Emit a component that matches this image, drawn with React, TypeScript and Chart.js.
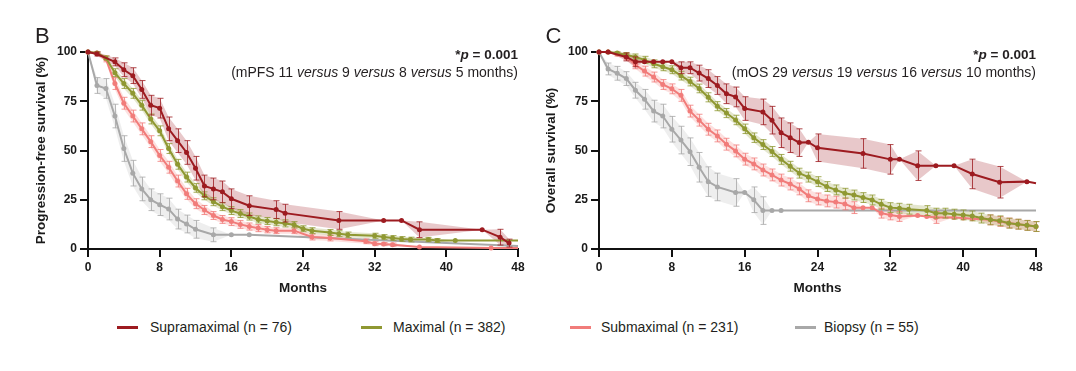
import React, { useEffect, useRef } from "react";
import { Chart, registerables } from "chart.js";

Chart.register(...registerables);

const FONT = "'Liberation Sans', Arial, Helvetica, sans-serif";

// ---------- tick labels ----------
const xTicks = [0, 8, 16, 24, 32, 40, 48];
const yTicks = [0, 25, 50, 75, 100];

// ---------- series labels ----------
const seriesLabels = ["Supramaximal (n = 76)", "Maximal (n = 382)", "Submaximal (n = 231)", "Biopsy (n = 55)"];

// ---------- Panel B: progression-free survival ----------
const pfsSupraMonths = [0, 1, 3, 4, 5, 6, 7, 8, 9, 10, 11, 12, 13, 14, 15, 16, 18, 21, 22, 28, 33, 35, 37, 44, 46, 47];
const pfsSupraSurv = [100, 99, 95, 91, 88, 81, 73, 71.5, 61, 55, 49, 41, 32, 30.5, 29, 25.5, 22, 20, 18.2, 14.5, 14.5, 14.5, 9.8, 9.8, 6, 3];
const pfsSupraErr = [0, 1, 2, 3.5, 4, 4.5, 5, 5, 6, 6, 6, 6, 5.5, 5.5, 5.5, 5, 5, 4.5, 4.5, 4.5, 0, 0, 4, 0, 4, 2];

const pfsMaxMonths = [0, 1, 2, 3, 4, 5, 6, 7, 8, 9, 10, 11, 12, 13, 14, 15, 16, 17, 18, 19, 20, 21, 22, 23, 24, 25, 27, 28, 29, 32, 33, 34, 35, 36, 38, 39, 41, 48];
const pfsMaxSurv = [100, 99.5, 97, 89.5, 84, 79, 73, 66, 60, 51, 43, 36.5, 31, 27, 24, 21.5, 19.5, 18, 16.5, 15, 14.2, 13.6, 13, 12.3, 10.3, 9.3, 8.4, 7.8, 7.2, 6.7, 6.1, 5.6, 5.1, 4.8, 4.8, 4.3, 4.3, 4.3];
const pfsMaxErr = [0, 0.5, 1, 2, 2.5, 2.5, 2.5, 2.5, 2.5, 2.5, 2.5, 2.5, 2.2, 2, 2, 2, 2, 2, 1.8, 1.8, 1.8, 1.8, 1.8, 1.6, 1.5, 1.5, 1.5, 1.5, 1.4, 1.3, 1.2, 1.2, 1.2, 1.2, 1.1, 1, 0, 0];

const pfsSubMonths = [0, 1, 2, 3, 4, 5, 6, 7, 8, 9, 10, 11, 12, 13, 14, 15, 16, 17, 18, 19, 20, 21, 23, 25, 27, 31, 32, 33, 34, 37, 45, 48];
const pfsSubSurv = [100, 99.5, 96.5, 84, 74, 67.5, 61, 54.5, 47.5, 41.5, 34.5, 28, 23, 19.8, 17, 15, 13.9, 12.5, 11.4, 10.6, 9.8, 9.3, 9.3, 6.1, 5.6, 3.9, 2.7, 2.5, 2.2, 1, 0.5, 0.5];
const pfsSubErr = [0, 0.5, 1.5, 3, 3, 3, 3, 3, 3, 3, 3, 2.8, 2.5, 2.3, 2, 2, 2, 2, 1.8, 1.8, 1.6, 1.5, 1.5, 1.5, 1.5, 1.2, 1, 0.8, 0.8, 0, 0, 0];

const pfsBioMonths = [0, 1, 2, 3, 4, 5, 6, 7, 8, 9, 10, 11, 12, 14, 16, 18, 48];
const pfsBioSurv = [100, 83, 81.5, 67.5, 51, 38.5, 30.5, 25, 22.5, 20.3, 15.2, 12.7, 10, 7.2, 7.2, 7.2, 1.5];
const pfsBioErr = [0, 4, 5, 6, 6.5, 6.5, 6, 5.5, 5.5, 5.5, 5, 4.5, 4.5, 3.5, 0, 0, 0];

// ---------- Panel C: overall survival ----------
const osSupraMonths = [0, 1, 3, 4, 5, 6, 7, 8, 9, 10, 11, 12, 13, 14, 15, 16, 18, 19, 20, 21, 22, 23, 24, 29, 32, 33, 35, 37, 39, 41, 44, 47, 48];
const osSupraSurv = [100, 100, 97.5, 95, 95, 95, 95, 95, 92, 92, 89.3, 86.5, 83, 78.8, 77.2, 71.3, 69.6, 65.4, 59, 56.5, 54, 54.2, 51.4, 48.5, 45.5, 45.5, 42.3, 42.3, 42.3, 38.1, 33.9, 34.2, 33.4];
const osSupraErr = [0, 0, 2, 2.5, 0, 0, 0, 0, 3, 3, 4, 4.5, 4.5, 5, 5, 6, 6.5, 7, 7.5, 7.5, 7, 0, 7, 7.5, 7.5, 0, 7.5, 0, 0, 7.5, 8, 0, 0];

const osMaxMonths = [0, 1, 2, 3, 4, 5, 6, 7, 8, 9, 10, 11, 12, 13, 14, 15, 16, 17, 18, 19, 20, 21, 22, 23, 24, 25, 26, 27, 28, 29, 30, 31, 32, 33, 34, 36, 37, 38, 39, 40, 41, 42, 43, 44, 45, 46, 47, 48];
const osMaxSurv = [100, 100, 99.5, 98.5, 97.5, 96, 94, 92.5, 91, 88, 85, 81.5, 77, 72.5, 69, 65.5, 61, 56.5, 53, 49.5, 45.5, 42, 38.5, 36.5, 34.2, 31.7, 30, 28.3, 27.4, 26.1, 24.9, 22.7, 21, 20.7, 20.2, 19.5, 18.2, 18.2, 17.7, 17.3, 16.8, 15.7, 14.8, 14.3, 13.1, 12.6, 12, 11.4];
const osMaxErr = [0, 0.5, 0.8, 1.2, 1.5, 1.8, 2, 2, 2, 2.2, 2.2, 2.2, 2.3, 2.3, 2.3, 2.4, 2.4, 2.4, 2.5, 2.5, 2.5, 2.5, 2.5, 2.5, 2.5, 2.5, 2.5, 2.5, 2.5, 2.5, 2.5, 2.5, 2.5, 2.5, 2.5, 2.5, 2.5, 2.5, 2.5, 2.5, 2.5, 2.5, 2.5, 2.5, 2.5, 2.5, 2.5, 2.5];

const osSubMonths = [0, 1, 2, 3, 4, 5, 6, 7, 8, 9, 10, 11, 12, 13, 14, 15, 16, 17, 18, 19, 20, 21, 22, 23, 24, 25, 26, 27, 28, 29, 30, 31, 32, 33, 35, 36, 37, 39, 40, 41, 43, 44, 45, 46, 47, 48];
const osSubSurv = [100, 100, 99, 97.5, 93.5, 90.3, 87.3, 83.5, 81.3, 78, 70, 65.4, 60.8, 57.4, 53.2, 49.8, 45.6, 43.2, 40.1, 37.6, 35, 33, 30.5, 27, 25.4, 24.4, 23.8, 22.9, 21, 21, 21, 18.2, 17.3, 16.5, 17, 16.5, 16, 16, 15.7, 15.3, 14.8, 14, 13.2, 12.6, 12, 11.4];
const osSubErr = [0, 0.5, 1, 1.5, 2, 2.5, 2.5, 2.5, 2.5, 3, 3, 3, 3, 3, 3, 3, 3, 3, 3, 3, 3, 3, 3, 3, 3, 3, 3, 3, 3, 0, 0, 2.5, 2.5, 2.5, 0, 0, 3, 0, 0, 0, 2.5, 2.5, 2.5, 2.5, 2.5, 2.5];

const osBioMonths = [0, 1, 2, 3, 4, 5, 6, 7, 8, 9, 10, 11, 12, 13, 15, 16, 17, 18, 19, 20, 48];
const osBioSurv = [100, 91.4, 89.2, 86.5, 80.6, 76, 70, 67.5, 60.8, 55.3, 49.4, 41.5, 34.2, 31.5, 28.7, 28.7, 25, 19.5, 19.5, 19.5, 19.5];
const osBioErr = [0, 3, 3.5, 3.5, 4, 5, 5.5, 6, 6.5, 7, 7, 7.5, 7.5, 7, 7, 0, 6.5, 7, 0, 0, 0];

// ---------- styling ----------
const COLORS = ["#9d1b20", "#8f9832", "#f17c7a", "#a8a8a8"];
const BAND_ALPHA = [0.24, 0.24, 0.24, 0.2];

type Series = { color: string; band: number; months: number[]; surv: number[]; err: number[]; tailUnmarked: boolean };

function rgba(hex: string, a: number) {
  const n = parseInt(hex.slice(1), 16);
  return `rgba(${(n >> 16) & 255},${(n >> 8) & 255},${n & 255},${a})`;
}

const pfsSeries: Series[] = [
  { color: COLORS[0], band: BAND_ALPHA[0], months: pfsSupraMonths, surv: pfsSupraSurv, err: pfsSupraErr, tailUnmarked: false },
  { color: COLORS[1], band: BAND_ALPHA[1], months: pfsMaxMonths, surv: pfsMaxSurv, err: pfsMaxErr, tailUnmarked: true },
  { color: COLORS[2], band: BAND_ALPHA[2], months: pfsSubMonths, surv: pfsSubSurv, err: pfsSubErr, tailUnmarked: true },
  { color: COLORS[3], band: BAND_ALPHA[3], months: pfsBioMonths, surv: pfsBioSurv, err: pfsBioErr, tailUnmarked: true },
];
const osSeries: Series[] = [
  { color: COLORS[0], band: BAND_ALPHA[0], months: osSupraMonths, surv: osSupraSurv, err: osSupraErr, tailUnmarked: true },
  { color: COLORS[1], band: BAND_ALPHA[1], months: osMaxMonths, surv: osMaxSurv, err: osMaxErr, tailUnmarked: false },
  { color: COLORS[2], band: BAND_ALPHA[2], months: osSubMonths, surv: osSubSurv, err: osSubErr, tailUnmarked: false },
  { color: COLORS[3], band: BAND_ALPHA[3], months: osBioMonths, surv: osBioSurv, err: osBioErr, tailUnmarked: true },
];

const errorBarPlugin = {
  id: "errorBars",
  beforeDatasetDraw(chart: any, args: any) {
    const ds: any = chart.data.datasets[args.index];
    if (!ds.errs) return;
    const { ctx } = chart;
    const xs = chart.scales.x;
    const ys = chart.scales.y;
    ctx.save();
    ctx.strokeStyle = ds.errColor;
    ctx.lineWidth = 1;
    ds.data.forEach((p: any, i: number) => {
      const e = ds.errs[i];
      if (!e) return;
      const px = Math.round(xs.getPixelForValue(p.x)) + 0.5;
      const top = ys.getPixelForValue(Math.min(100, p.y + e));
      const bot = ys.getPixelForValue(Math.max(0, p.y - e));
      ctx.beginPath();
      ctx.moveTo(px, top);
      ctx.lineTo(px, bot);
      ctx.moveTo(px - 3, top);
      ctx.lineTo(px + 3, top);
      ctx.moveTo(px - 3, bot);
      ctx.lineTo(px + 3, bot);
      ctx.stroke();
    });
    ctx.restore();
  },
};

function makeConfig(series: Series[], yTitle: string, yAxisWidth: number, yTitlePad: number, rightPad: number): any {
  const datasets: any[] = [];
  series.forEach((s, k) => {
    datasets.push({
      data: s.months.map((m, i) => ({ x: m, y: Math.max(0, s.surv[i] - s.err[i]) })),
      borderWidth: 0, pointRadius: 0, fill: false, order: 20 + k, clip: false, borderColor: "rgba(0,0,0,0)",
    });
    datasets.push({
      data: s.months.map((m, i) => ({ x: m, y: Math.min(100, s.surv[i] + s.err[i]) })),
      borderWidth: 0, pointRadius: 0, fill: "-1", backgroundColor: rgba(s.color, s.band), order: 20 + k, clip: false, borderColor: "rgba(0,0,0,0)",
    });
  });
  series.forEach((s, k) => {
    datasets.push({
      data: s.months.map((m, i) => ({ x: m, y: s.surv[i] })),
      borderColor: s.color,
      backgroundColor: s.color,
      borderWidth: 2,
      pointRadius: (c: any) => (s.tailUnmarked && c.dataIndex === s.months.length - 1 ? 0 : 2.5),
      pointBorderWidth: 0,
      pointBackgroundColor: s.color,
      fill: false,
      tension: 0,
      order: k,
      clip: false,
      errs: s.err,
      errColor: rgba(s.color, 0.8),
    });
  });
  const tickFont = { family: FONT, size: 12, weight: "bold" };
  const titleFont = { family: FONT, size: 13.5, weight: "bold" };
  return {
    type: "line",
    data: { datasets },
    plugins: [errorBarPlugin],
    options: {
      responsive: false,
      animation: false,
      events: [],
      layout: { padding: { left: 0, right: rightPad, top: 52, bottom: 0 } },
      plugins: { legend: { display: false }, tooltip: { enabled: false } },
      scales: {
        x: {
          type: "linear",
          min: 0,
          max: 48,
          afterBuildTicks: (sc: any) => { sc.ticks = xTicks.map((v) => ({ value: v })); },
          afterFit: (sc: any) => { sc.height = 51; },
          grid: { drawOnChartArea: false, drawTicks: true, tickLength: 8, lineWidth: 2, color: "#111" },
          border: { display: true, width: 2, color: "#111" },
          ticks: { font: tickFont, color: "#1a1a1a", padding: 3, maxRotation: 0, autoSkip: false },
          title: { display: true, text: "Months", font: titleFont, color: "#1a1a1a", padding: { top: 0, bottom: 4 } },
        },
        y: {
          type: "linear",
          min: 0,
          max: 100,
          afterBuildTicks: (sc: any) => { sc.ticks = yTicks.map((v) => ({ value: v })); },
          afterFit: (sc: any) => { sc.width = yAxisWidth; },
          grid: { drawOnChartArea: false, drawTicks: true, tickLength: 8, lineWidth: 2, color: "#111" },
          border: { display: true, width: 2, color: "#111" },
          ticks: { font: tickFont, color: "#1a1a1a", padding: 3, autoSkip: false },
          title: { display: true, text: yTitle, font: titleFont, color: "#1a1a1a", padding: { top: yTitlePad, bottom: 0 } },
        },
      },
    },
  };
}

function Panel(props: { series: Series[]; yTitle: string; left: number; width: number; yAxisWidth: number; yTitlePad: number; rightPad: number }) {
  const ref = useRef<HTMLCanvasElement>(null);
  useEffect(() => {
    const chart = new Chart(ref.current as HTMLCanvasElement, makeConfig(props.series, props.yTitle, props.yAxisWidth, props.yTitlePad, props.rightPad));
    return () => chart.destroy();
  }, []);
  return (
    <canvas
      ref={ref}
      width={props.width}
      height={300}
      style={{ position: "absolute", left: props.left, top: 0, width: props.width, height: 300 }}
    />
  );
}

const legendMarkerX = [117, 361, 570, 795];
const legendTextX = [150, 393, 601, 824];

export default function App() {
  const W = 1076;
  const note: React.CSSProperties = { position: "absolute", lineHeight: "16px", whiteSpace: "nowrap", color: "#231f20" };
  return (
    <div style={{ position: "absolute", left: 0, top: 0, width: W, height: 371, background: "#fff", fontFamily: FONT, overflow: "hidden" }}>
      <Panel series={pfsSeries} yTitle="Progression-free survival (%)" left={0} width={540} yAxisWidth={88} yTitlePad={33} rightPad={22} />
      <Panel series={osSeries} yTitle="Overall survival (%)" left={540} width={536} yAxisWidth={59} yTitlePad={3.6} rightPad={40} />

      <div style={{ position: "absolute", left: 35, top: 22.5, fontSize: 22, lineHeight: "26px", color: "#231f20" }}>B</div>
      <div style={{ position: "absolute", left: 545.5, top: 22.5, fontSize: 22, lineHeight: "26px", color: "#231f20" }}>C</div>

      <div style={{ ...note, fontSize: 13.5, right: W - 518, top: 47, fontWeight: "bold" }}>*<i>p</i> = 0.001</div>
      <div style={{ ...note, fontSize: 14, right: W - 518, top: 63.5 }}>(mPFS 11 <i>versus</i> 9 <i>versus</i> 8 <i>versus</i> 5 months)</div>
      <div style={{ ...note, fontSize: 13.5, right: W - 1036, top: 47, fontWeight: "bold" }}>*<i>p</i> = 0.001</div>
      <div style={{ ...note, fontSize: 14, right: W - 1036, top: 63.5 }}>(mOS 29 <i>versus</i> 19 <i>versus</i> 16 <i>versus</i> 10 months)</div>

      {seriesLabels.map((lab, i) => (
        <React.Fragment key={lab}>
          <div style={{ position: "absolute", left: legendMarkerX[i], top: 325.5, width: 21, height: 3, background: COLORS[i] }} />
          <div style={{ position: "absolute", left: legendTextX[i], top: 319, fontSize: 14, lineHeight: "16px", whiteSpace: "nowrap", color: "#231f20" }}>{lab}</div>
        </React.Fragment>
      ))}
    </div>
  );
}
